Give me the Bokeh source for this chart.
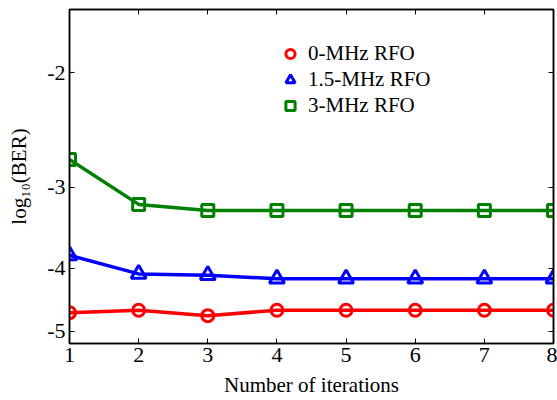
from bokeh.plotting import figure
from bokeh.models import (Range1d, FixedTicker, CustomJSTickFormatter, LinearAxis,
                          LogAxis, Legend, LegendItem)
from bokeh.embed import file_html
from bokeh.resources import INLINE

iterations = [1, 2, 3, 4, 5, 6, 7, 8]
ber_0mhz = [-4.68, -4.64, -4.73, -4.64, -4.64, -4.64, -4.64, -4.64]
ber_15mhz = [-3.82, -4.08, -4.10, -4.15, -4.15, -4.15, -4.15, -4.15]
ber_3mhz = [-2.72, -3.19, -3.26, -3.26, -3.26, -3.26, -3.26, -3.26]
series_labels = ["0-MHz RFO", "1.5-MHz RFO", "3-MHz RFO"]
y_ticks = [-2, -3, -4, -5]
x_ticks = [1, 2, 3, 4, 5, 6, 7, 8]

FONT = "Liberation Serif"

# The original axis is logarithmic in |log10(BER)|, with larger magnitudes at the bottom.
p = figure(width=557, height=400, output_backend="svg", toolbar_location=None,
           y_axis_type="log",
           x_range=Range1d(1, 8), y_range=Range1d(5.22, 1.6),
           min_border_left=69, min_border_right=4, min_border_top=9, min_border_bottom=57)
p.xgrid.visible = False
p.ygrid.visible = False
p.outline_line_color = "black"
p.outline_line_width = 1.5
p.background_fill_color = "white"
p.border_fill_color = "white"

neg_fmt = CustomJSTickFormatter(code="return '-' + tick.toString();")
empty_fmt = CustomJSTickFormatter(code="return '';")

yt = FixedTicker(ticks=[-v for v in y_ticks])
xt = FixedTicker(ticks=x_ticks)

xa = p.xaxis[0]
xa.ticker = xt
xa.axis_label = "Number of iterations"
ya = p.yaxis[0]
ya.ticker = yt
ya.formatter = neg_fmt
ya.axis_label = "log\u2081\u2080(BER)"

for ax in (xa, ya):
    ax.major_tick_in = 5
    ax.major_tick_out = 0
    ax.minor_tick_line_color = None
    ax.axis_line_width = 1.5
    ax.axis_line_color = "black"
    ax.major_tick_line_color = "black"
    ax.major_label_text_font = FONT
    ax.major_label_text_font_size = "22px"
    ax.major_label_text_color = "black"
    ax.axis_label_text_font = FONT
    ax.axis_label_text_font_size = "21px"
    ax.axis_label_text_font_style = "normal"
    ax.axis_label_text_color = "black"
xa.major_label_standoff = 4
xa.axis_label_standoff = 8
ya.major_label_standoff = 4
ya.axis_label_standoff = 13

top = LinearAxis(ticker=xt, formatter=empty_fmt)
right = LogAxis(ticker=yt, formatter=empty_fmt)
for ax in (top, right):
    ax.major_tick_in = 5
    ax.major_tick_out = 0
    ax.minor_tick_line_color = None
    ax.axis_line_width = 1.5
    ax.major_label_standoff = 0
    ax.major_label_text_font_size = "1px"
p.add_layout(top, "above")
p.add_layout(right, "right")

colors = ["red", "blue", "green"]
markers = ["circle", "triangle", "square"]
sizes = [12, 15, 12]
items = []
for vals, col, mk, sz, lab in zip([ber_0mhz, ber_15mhz, ber_3mhz], colors, markers, sizes, series_labels):
    ys = [-v for v in vals]
    p.line(iterations, ys, line_color=col, line_width=3.5)
    r = p.scatter(iterations, ys, marker=mk, size=sz, line_color=col, line_width=3,
                  fill_alpha=0)
    items.append(LegendItem(label=lab, renderers=[r]))

legend = Legend(items=items, location=(209, 225))
legend.border_line_color = None
legend.background_fill_alpha = 0
legend.label_text_font = FONT
legend.label_text_font_size = "21px"
legend.label_text_color = "black"
legend.glyph_width = 24
legend.glyph_height = 23
legend.label_height = 23
legend.spacing = 1
legend.padding = 5
legend.margin = 0
legend.label_standoff = 6
p.add_layout(legend)

open("out.html", "w").write(file_html(p, INLINE))
